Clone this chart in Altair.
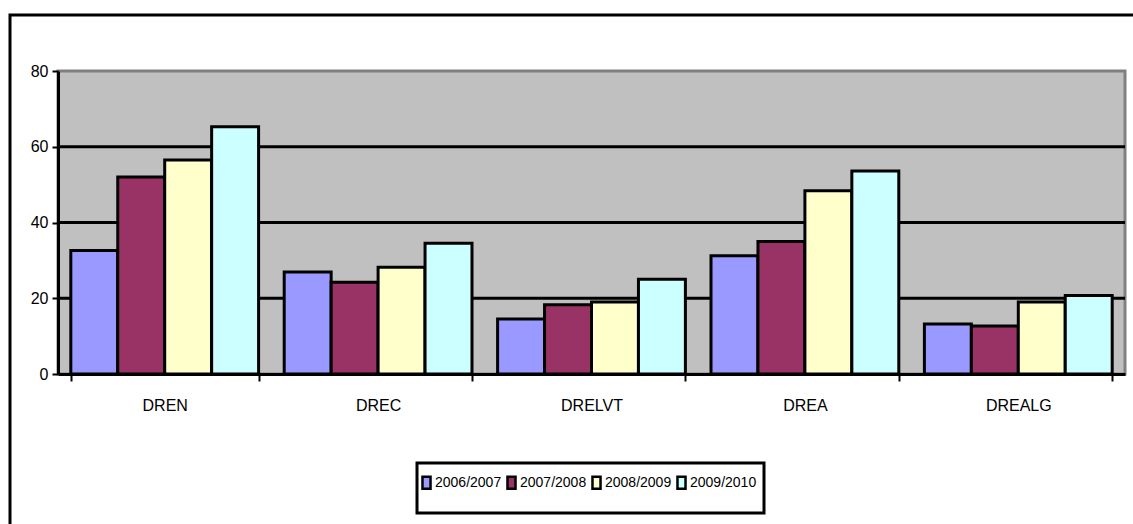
import altair as alt
import pandas as pd

# Regional values per school year
categories = ["DREN", "DREC", "DRELVT", "DREA", "DREALG"]
years = ["2006/2007", "2007/2008", "2008/2009", "2009/2010"]
s_2006_2007 = [32.6, 26.9, 14.5, 31.2, 13.2]
s_2007_2008 = [52.0, 24.2, 18.3, 35.0, 12.7]
s_2008_2009 = [56.5, 28.2, 19.0, 48.4, 19.0]
s_2009_2010 = [65.3, 34.5, 25.0, 53.6, 20.7]
y_ticks = [0, 20, 40, 60, 80]
grid_values = [20, 40, 60]
colors = ["#9999FF", "#993366", "#FFFFCC", "#CCFFFF"]

FONT = "Liberation Sans"

rows = []
for year, series in zip(years, [s_2006_2007, s_2007_2008, s_2008_2009, s_2009_2010]):
    for cat, v in zip(categories, series):
        rows.append({"region": cat, "year": year, "value": v})
df = pd.DataFrame(rows)

W, H = 1067, 303
LEFT, TOP = 58, 71

# outer chart frame
frame = alt.Chart(alt.Data(values=[{}])).mark_rect(
    fillOpacity=0, stroke="black", strokeWidth=3
).encode(
    x=alt.value(10 - LEFT), x2=alt.value(1145 - LEFT),
    y=alt.value(15 - TOP), y2=alt.value(540 - TOP),
)

# legend box
legend_box = alt.Chart(alt.Data(values=[{}])).mark_rect(
    fill="white", stroke="black", strokeWidth=3
).encode(
    x=alt.value(417 - LEFT), x2=alt.value(764 - LEFT),
    y=alt.value(463 - TOP), y2=alt.value(513 - TOP),
)

grid = alt.Chart(pd.DataFrame({"g": grid_values})).mark_rule(
    color="black", strokeWidth=3
).encode(
    y=alt.Y("g:Q", scale=alt.Scale(domain=[0, 80]))
)

bars = alt.Chart(df).mark_bar(stroke="black", strokeWidth=3).encode(
    x=alt.X(
        "region:N",
        sort=categories,
        title=None,
        scale=alt.Scale(paddingInner=0.12, paddingOuter=0.06),
        axis=alt.Axis(
            labelAngle=0, tickBand="extent", tickSize=7, tickWidth=2,
            tickColor="black", domainColor="black", domainWidth=3,
            labelFont=FONT, labelFontSize=16, labelColor="black",
            labelPadding=16, grid=False,
        ),
    ),
    xOffset=alt.XOffset("year:N", sort=years, scale=alt.Scale(paddingInner=0, paddingOuter=0)),
    y=alt.Y(
        "value:Q",
        title=None,
        scale=alt.Scale(domain=[0, 80], nice=False),
        axis=alt.Axis(
            values=y_ticks, grid=False, tickSize=6, tickWidth=2,
            tickColor="black", domainColor="black", domainWidth=3,
            labelFont=FONT, labelFontSize=16, labelColor="black",
            labelPadding=4,
        ),
    ),
    color=alt.Color(
        "year:N",
        sort=years,
        scale=alt.Scale(domain=years, range=colors),
        legend=alt.Legend(
            title=None, orient="none", direction="horizontal", columns=4,
            legendX=361, legendY=475 - TOP, padding=0,
            symbolType="M-0.67,-1H0.67V1H-0.67Z", symbolSize=144,
            symbolStrokeColor="black", symbolStrokeWidth=2.5,
            symbolOpacity=1,
            labelFont=FONT, labelFontSize=14, labelColor="black",
            labelOffset=1, columnPadding=0,
        ),
    ),
)

chart = alt.layer(frame, grid, bars, legend_box).properties(
    width=W, height=H,
    autosize=alt.AutoSizeParams(type="none"),
    padding={"left": LEFT, "top": TOP, "right": 1133 - LEFT - W, "bottom": 524 - TOP - H},
).configure(
    background="white",
    font=FONT,
    view=alt.ViewConfig(fill="#C0C0C0", stroke="#808080", strokeWidth=3),
)

chart.save("out.html", embed_options={"renderer": "svg", "actions": False})
